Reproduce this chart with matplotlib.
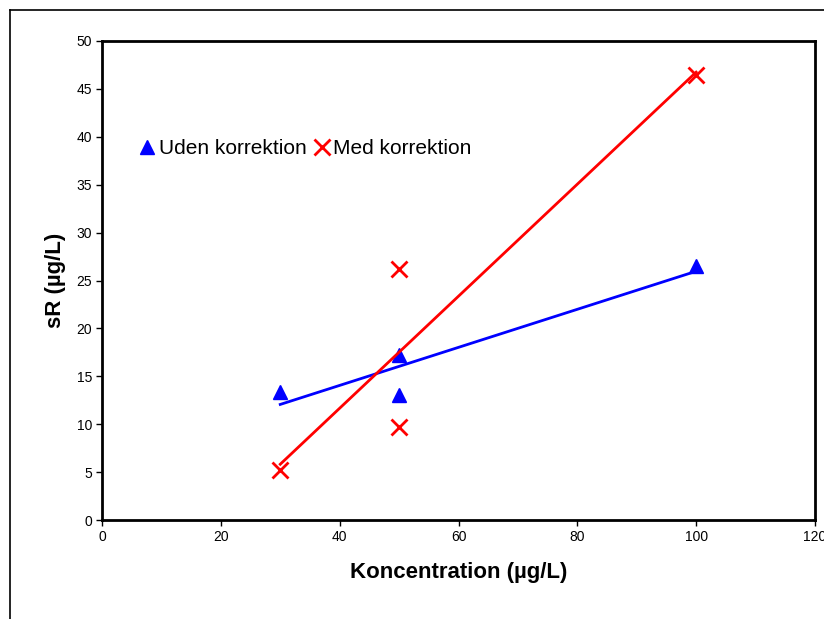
import numpy as np
import matplotlib.pyplot as plt
from matplotlib.lines import Line2D

plt.rcParams['font.family'] = ['Liberation Sans', 'DejaVu Sans']

# data
konc = [30, 50, 50, 100]
uden = [13.4, 17.2, 13.0, 26.5]
med = [5.2, 26.2, 9.7, 46.5]

x_ticks = [0, 20, 40, 60, 80, 100, 120]
y_ticks = [0, 5, 10, 15, 20, 25, 30, 35, 40, 45, 50]

fig = plt.figure(figsize=(8.24, 6.19), dpi=100)
# outer chart frame (runs off the right/bottom edge like the original)
fig.add_artist(Line2D([10/824, 1.0], [1 - 10/619, 1 - 10/619], color='black', lw=1.2))
fig.add_artist(Line2D([10/824, 10/824], [0.0, 1 - 10/619], color='black', lw=1.2))

ax = fig.add_axes([102/824, 1 - 520/619, 713/824, 479/619])

ax.plot(konc, uden, linestyle='none', marker='^', color='blue', markersize=10, label='Uden korrektion')
ax.plot(konc, med, linestyle='none', marker='x', color='red', markersize=11, mew=2, label='Med korrektion')

# linear trendlines
xs = np.array([min(konc), max(konc)])
for ys, c in [(uden, 'blue'), (med, 'red')]:
    k, m = np.polyfit(konc, ys, 1)
    ax.plot(xs, k * xs + m, color=c, lw=2)

ax.set_xlim(0, 120)
ax.set_ylim(0, 50)
ax.set_xticks(x_ticks)
ax.set_yticks(y_ticks)
ax.tick_params(direction='out', length=4, width=1, labelsize=10, pad=3)
for s in ax.spines.values():
    s.set_linewidth(2)

ax.set_xlabel('Koncentration (µg/L)', fontsize=16, fontweight='bold', labelpad=13)
ax.set_ylabel('sR (µg/L)', fontsize=16, fontweight='bold', labelpad=8)

ax.legend(loc='center left', bbox_to_anchor=(0.04, 0.775), ncol=2, frameon=False,
          fontsize=15, handlelength=0.6, handletextpad=0.25, columnspacing=0.45,
          borderpad=0)

fig.savefig('out.png', dpi=100)
